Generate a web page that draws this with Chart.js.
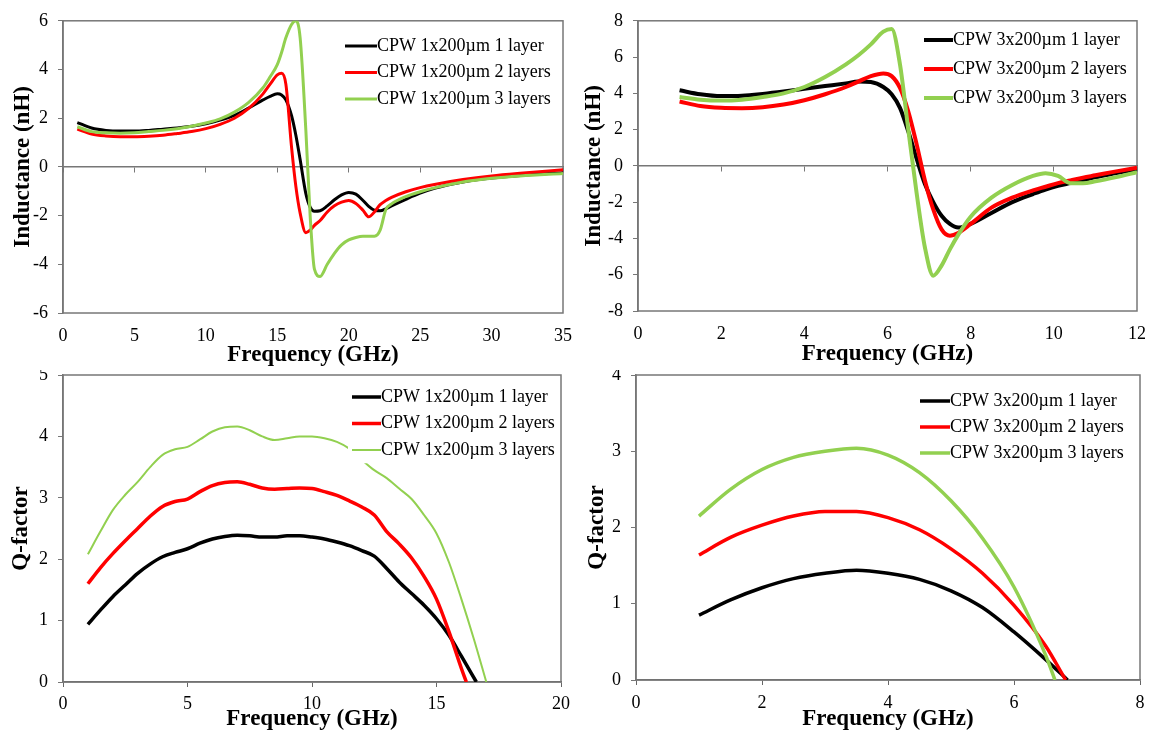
<!DOCTYPE html>
<html>
<head>
<meta charset="utf-8">
<script src="https://cdn.jsdelivr.net/npm/chart.js@4.4.1/dist/chart.umd.min.js"></script>
<style>
  html, body { margin: 0; padding: 0; background: #fff; }
  .pane { position: absolute; overflow: hidden; width: 576px; height: 370px; }
  .pane canvas { position: absolute; left: 0; }
</style>
</head>
<body>
<div class="pane" style="left:0;top:0"><canvas id="indNarrow" width="576" height="370" style="top:0"></canvas></div>
<div class="pane" style="left:576px;top:0"><canvas id="indWide" width="576" height="370" style="top:0"></canvas></div>
<div class="pane" style="left:0;top:370px"><canvas id="qNarrow" width="576" height="390" style="top:-20px"></canvas></div>
<div class="pane" style="left:576px;top:370px"><canvas id="qWide" width="576" height="390" style="top:-20px"></canvas></div>
<script>
const SERIF = '"Liberation Serif", "Times New Roman", serif';
const COLORS = ['#000000', '#ff0000', '#92d050'];

const namesNarrow = ['CPW 1x200µm 1 layer', 'CPW 1x200µm 2 layers', 'CPW 1x200µm 3 layers'];
const namesWide = ['CPW 3x200µm 1 layer', 'CPW 3x200µm 2 layers', 'CPW 3x200µm 3 layers'];

// inductance, 1x200um (GHz / nH)
const freqInd1 = [1, 2, 3, 4, 5, 6, 7, 8, 9, 10, 11, 12, 13, 14, 14.5, 15, 15.3, 15.6, 16, 16.3, 16.6, 17, 17.3, 17.6, 18, 18.5, 19, 19.5, 20, 20.5, 21, 21.4, 21.8, 22.2, 22.6, 23, 24, 25, 26, 28, 30, 32, 35];
const ind1Layer1 = [1.82, 1.6, 1.5, 1.47, 1.47, 1.5, 1.55, 1.6, 1.67, 1.77, 1.92, 2.12, 2.42, 2.75, 2.9, 3.0, 2.95, 2.75, 2.1, 1.3, 0.3, -1.1, -1.65, -1.82, -1.8, -1.6, -1.35, -1.15, -1.05, -1.12, -1.38, -1.62, -1.78, -1.8, -1.72, -1.6, -1.33, -1.08, -0.88, -0.62, -0.46, -0.35, -0.24];
const ind1Layer2 = [1.55, 1.35, 1.27, 1.24, 1.24, 1.26, 1.3, 1.37, 1.45, 1.57, 1.75, 2.0, 2.4, 3.0, 3.4, 3.78, 3.85, 3.4, 0.8, -0.8, -1.9, -2.7, -2.6, -2.4, -2.2, -1.85, -1.6, -1.45, -1.38, -1.5, -1.78, -2.05, -1.85, -1.55, -1.38, -1.25, -1.02, -0.85, -0.72, -0.52, -0.37, -0.26, -0.12];
const ind1Layer3 = [1.65, 1.45, 1.4, 1.38, 1.4, 1.45, 1.5, 1.57, 1.67, 1.8, 1.97, 2.25, 2.65, 3.25, 3.7, 4.2, 4.7, 5.3, 5.85, 6.0, 5.3, 1.5, -2.0, -4.2, -4.5, -4.0, -3.55, -3.2, -3.0, -2.9, -2.85, -2.85, -2.85, -2.6, -1.75, -1.52, -1.22, -1.02, -0.86, -0.62, -0.47, -0.37, -0.27];

// inductance, 3x200um
const freqInd3 = [1, 1.5, 2, 2.5, 3, 3.5, 4, 4.5, 5, 5.3, 5.6, 5.9, 6.1, 6.3, 6.5, 6.7, 6.9, 7.1, 7.3, 7.5, 7.7, 8, 8.5, 9, 9.5, 9.8, 10.1, 10.4, 10.7, 11, 11.5, 12];
const ind3Layer1 = [4.17, 3.95, 3.85, 3.87, 3.97, 4.1, 4.25, 4.4, 4.55, 4.65, 4.62, 4.35, 3.95, 3.2, 1.9, 0.4, -1.0, -2.0, -2.75, -3.2, -3.4, -3.2, -2.6, -2.0, -1.55, -1.3, -1.1, -0.95, -0.8, -0.62, -0.4, -0.18];
const ind3Layer2 = [3.55, 3.3, 3.2, 3.18, 3.23, 3.38, 3.62, 3.95, 4.35, 4.65, 4.95, 5.1, 4.95, 4.3, 3.0, 1.2, -0.8, -2.4, -3.5, -3.85, -3.7, -3.2, -2.3, -1.75, -1.35, -1.15, -0.95, -0.8, -0.65, -0.52, -0.3, -0.1];
const ind3Layer3 = [3.8, 3.65, 3.6, 3.65, 3.8, 4.0, 4.35, 4.9, 5.6, 6.1, 6.7, 7.4, 7.55, 5.6, 2.0, -1.5, -4.5, -6.05, -5.5, -4.6, -3.8, -2.8, -1.75, -1.05, -0.55, -0.4, -0.55, -0.95, -0.95, -0.85, -0.62, -0.35];

// Q-factor, 1x200um
const freqQ1a = [1, 1.5, 2, 2.5, 3, 3.5, 4, 4.5, 5, 5.5, 6, 6.5, 7, 7.5, 8, 8.5, 9, 9.5, 10, 10.5, 11, 11.5, 12, 12.5, 13, 13.5, 14, 14.5, 15, 15.5, 16, 16.6];
const freqQ1b = [1, 1.5, 2, 2.5, 3, 3.5, 4, 4.5, 5, 5.5, 6, 6.5, 7, 7.5, 8, 8.5, 9, 9.5, 10, 10.5, 11, 11.5, 12, 12.5, 13, 13.5, 14, 14.5, 15, 15.5, 16, 16.2];
const freqQ1c = [1, 1.5, 2, 2.5, 3, 3.5, 4, 4.5, 5, 5.5, 6, 6.5, 7, 7.5, 8, 8.5, 9, 9.5, 10, 10.5, 11, 11.5, 12, 12.5, 13, 13.5, 14, 14.5, 15, 15.5, 16, 16.5, 17];
const q1Layer1 = [0.94, 1.17, 1.39, 1.58, 1.77, 1.92, 2.04, 2.11, 2.17, 2.26, 2.33, 2.37, 2.39, 2.38, 2.36, 2.36, 2.38, 2.38, 2.36, 2.33, 2.28, 2.22, 2.14, 2.05, 1.85, 1.63, 1.44, 1.25, 1.03, 0.76, 0.42, 0];
const q1Layer2 = [1.6, 1.86, 2.09, 2.3, 2.5, 2.7, 2.86, 2.94, 2.98, 3.1, 3.2, 3.25, 3.26, 3.22, 3.16, 3.14, 3.15, 3.16, 3.15, 3.1, 3.04, 2.95, 2.85, 2.72, 2.45, 2.25, 2.02, 1.72, 1.35, 0.82, 0.22, 0];
const q1Layer3 = [2.08, 2.45, 2.8, 3.05, 3.26, 3.5, 3.7, 3.79, 3.83, 3.95, 4.08, 4.15, 4.16, 4.1, 4.0, 3.94, 3.97, 4.0, 4.0, 3.97, 3.91, 3.8, 3.62, 3.45, 3.32, 3.15, 2.98, 2.72, 2.42, 1.95, 1.35, 0.7, 0];

// Q-factor, 3x200um
const freqQ3a = [1, 1.5, 2, 2.5, 3, 3.5, 4, 4.5, 5, 5.5, 6, 6.5, 6.85];
const freqQ3b = [1, 1.5, 2, 2.5, 3, 3.5, 4, 4.5, 5, 5.5, 6, 6.5, 6.82];
const freqQ3c = [1, 1.5, 2, 2.5, 3, 3.5, 4, 4.5, 5, 5.5, 6, 6.5, 6.65];
const q3Layer1 = [0.85, 1.05, 1.21, 1.33, 1.4, 1.44, 1.4, 1.32, 1.17, 0.95, 0.63, 0.27, 0];
const q3Layer2 = [1.64, 1.87, 2.03, 2.15, 2.21, 2.21, 2.13, 1.97, 1.72, 1.4, 0.98, 0.45, 0];
const q3Layer3 = [2.15, 2.5, 2.76, 2.92, 3.0, 3.04, 2.95, 2.72, 2.35, 1.86, 1.22, 0.33, 0];

const pts = (xs, ys) => xs.map((x, i) => ({ x: x, y: ys[i] }));

const frame = {
    id: 'frame',
    beforeDatasetsDraw(chart) {
        const a = chart.chartArea;
        const ctx = chart.ctx;
        ctx.save();
        ctx.strokeStyle = '#777';
        ctx.lineWidth = 1.5;
        ctx.strokeRect(a.left, a.top, a.right - a.left, a.bottom - a.top);
        ctx.restore();
    }
};

const boxLegend = {
    id: 'boxLegend',
    afterDatasetsDraw(chart, args, opts) {
        const ctx = chart.ctx;
        const sets = chart.data.datasets;
        ctx.save();
        ctx.font = '18px ' + SERIF;
        const w = opts.lineLen + Math.max(...sets.map(d => ctx.measureText(d.label).width));
        ctx.fillStyle = '#fff';
        ctx.fillRect(opts.x - 4, opts.y - opts.rowH / 2, w + 8, opts.rowH * sets.length);
        sets.forEach((d, i) => {
            const y = opts.y + i * opts.rowH;
            ctx.strokeStyle = d.borderColor;
            ctx.lineWidth = d.borderWidth;
            ctx.beginPath();
            ctx.moveTo(opts.x, y);
            ctx.lineTo(opts.x + opts.lineLen, y);
            ctx.stroke();
            ctx.fillStyle = '#000';
            ctx.textBaseline = 'middle';
            ctx.fillText(d.label, opts.x + opts.lineLen, y);
        });
        ctx.restore();
    }
};

const tickFont = { family: SERIF, size: 18 };
const titleFont = { family: SERIF, size: 23, weight: 'bold' };

function makeChart(id, o) {
    const datasets = o.series.map((s, i) => ({
        label: o.names[i],
        data: pts(s[0], s[1]),
        borderColor: COLORS[i],
        borderWidth: o.widths[i],
        pointRadius: 0,
        cubicInterpolationMode: 'monotone',
        order: 2 - i
    }));

    const scales = {
        x: {
            type: 'linear',
            min: 0,
            max: o.xMax,
            ticks: { stepSize: o.xStep, padding: o.xPad, color: '#000', font: tickFont },
            grid: o.zeroAxis ? { display: false } : { drawOnChartArea: false, tickLength: 5, color: '#666' },
            border: { display: !o.zeroAxis, color: '#666', width: 1.5 },
            title: { display: true, text: 'Frequency (GHz)', color: '#000', font: titleFont, padding: { top: 0, bottom: o.xTitlePad } },
            afterFit: s => { s.height = o.xH; }
        },
        y: {
            min: o.yMin,
            max: o.yMax,
            ticks: { stepSize: o.yStep, padding: 10, color: '#000', font: tickFont },
            grid: { drawOnChartArea: false, tickLength: 5, color: '#777' },
            border: { color: '#777', width: 1.5 },
            title: { display: true, text: o.yTitle, color: '#000', font: titleFont, padding: { top: o.yTitlePad, bottom: 0 } },
            afterFit: s => { s.width = o.yW; }
        }
    };

    if (o.zeroAxis) {
        scales.x0 = {
            type: 'linear',
            axis: 'x',
            min: 0,
            max: o.xMax,
            position: { y: 0 },
            ticks: { display: false, stepSize: o.xStep },
            grid: { drawOnChartArea: false, tickLength: 5, color: '#777' },
            border: { color: '#777', width: 1.5 }
        };
    }

    new Chart(document.getElementById(id), {
        type: 'line',
        data: { datasets: datasets },
        options: {
            responsive: false,
            animation: false,
            devicePixelRatio: 1,
            layout: { padding: { top: o.padTop, right: o.padRight, left: 0, bottom: 0 } },
            plugins: {
                legend: { display: false },
                tooltip: { enabled: false },
                boxLegend: o.legend
            },
            scales: scales
        },
        plugins: [frame, boxLegend]
    });
}

makeChart('indNarrow', {
    names: namesNarrow,
    series: [[freqInd1, ind1Layer1], [freqInd1, ind1Layer2], [freqInd1, ind1Layer3]],
    widths: [3, 3, 3],
    xMax: 35, xStep: 5, yMin: -6, yMax: 6, yStep: 2,
    yTitle: 'Inductance (nH)', zeroAxis: true,
    padTop: 14, padRight: 5, yW: 63, xH: 57, xPad: 4, xTitlePad: 1, yTitlePad: 9,
    legend: { x: 345, y: 46, rowH: 26.5, lineLen: 32 }
});

makeChart('indWide', {
    names: namesWide,
    series: [[freqInd3, ind3Layer1], [freqInd3, ind3Layer2], [freqInd3, ind3Layer3]],
    widths: [4, 4, 4],
    xMax: 12, xStep: 2, yMin: -8, yMax: 8, yStep: 2,
    yTitle: 'Inductance (nH)', zeroAxis: true,
    padTop: 16, padRight: 15, yW: 62, xH: 59, xPad: 4, xTitlePad: 2, yTitlePad: 4,
    legend: { x: 348, y: 40, rowH: 29, lineLen: 29 }
});

makeChart('qNarrow', {
    names: namesNarrow,
    series: [[freqQ1a, q1Layer1], [freqQ1b, q1Layer2], [freqQ1c, q1Layer3]],
    widths: [3.5, 3.5, 2],
    xMax: 20, xStep: 5, yMin: 0, yMax: 5, yStep: 1,
    yTitle: 'Q-factor', zeroAxis: false,
    padTop: 25, padRight: 9, yW: 63, xH: 58, xPad: 6, xTitlePad: 7, yTitlePad: 7,
    legend: { x: 352, y: 47, rowH: 26.5, lineLen: 29 }
});

makeChart('qWide', {
    names: namesWide,
    series: [[freqQ3a, q3Layer1], [freqQ3b, q3Layer2], [freqQ3c, q3Layer3]],
    widths: [3.5, 3.5, 3.5],
    xMax: 8, xStep: 2, yMin: 0, yMax: 4, yStep: 1,
    yTitle: 'Q-factor', zeroAxis: false,
    padTop: 25, padRight: 12, yW: 60, xH: 60, xPad: 7, xTitlePad: 7, yTitlePad: 7,
    legend: { x: 344, y: 51, rowH: 26, lineLen: 30 }
});
</script>
</body>
</html>
